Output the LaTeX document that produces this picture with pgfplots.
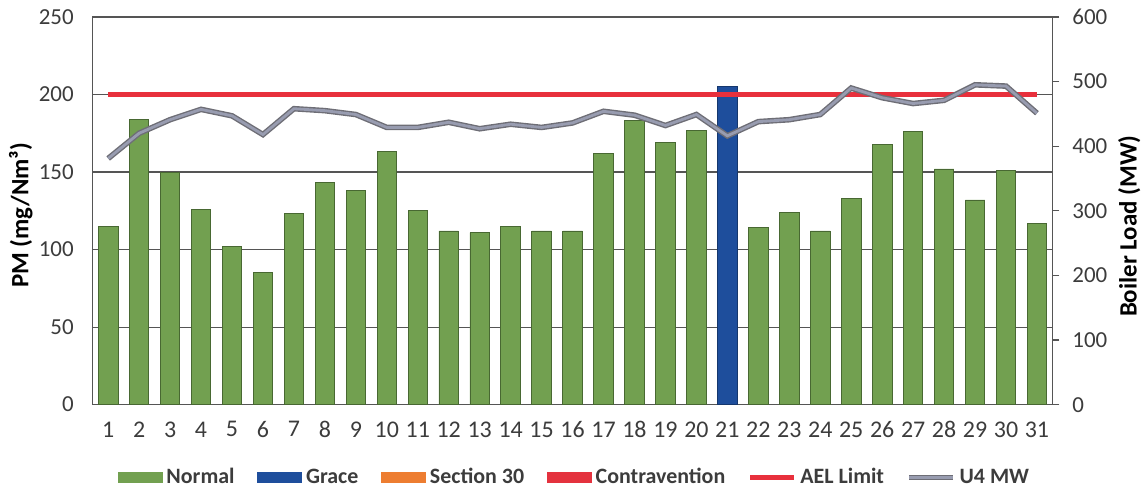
\documentclass[border=0pt]{standalone}
\usepackage{fontspec}
\setmainfont{Carlito}
\usepackage{pgfplots}
\pgfplotsset{compat=1.18}

\definecolor{normalgreen}{RGB}{114,160,80}
\definecolor{greenedge}{RGB}{72,104,50}
\definecolor{graceblue}{RGB}{30,78,156}
\definecolor{secorange}{RGB}{237,125,49}
\definecolor{contrared}{RGB}{228,50,62}
\definecolor{aelred}{RGB}{232,48,60}
\definecolor{mwgray}{RGB}{152,156,176}
\definecolor{mwdark}{RGB}{110,110,118}
\definecolor{gridgray}{RGB}{85,85,85}
\definecolor{ticktext}{RGB}{60,60,60}

\begin{document}
\begin{tikzpicture}
\begin{axis}[
  name=ax,
  scale only axis,
  width=481.5pt, height=194.5pt,
  xmin=0.5, xmax=31.5,
  ymin=0, ymax=250,
  xtick={1,...,31},
  ytick={0,50,...,250},
  ymajorgrids,
  grid style={gridgray, line width=0.6pt},
  axis line style={gridgray, line width=0.7pt},
  major tick length=0pt,
  /pgf/number format/assume math mode=true,
  tick label style={font=\fontsize{11.5}{13}\selectfont, text=ticktext},
  xticklabel style={font=\fontsize{12}{13}\selectfont, yshift=-5pt},
  yticklabel style={xshift=-6pt},
  ylabel={\textbf{PM (mg/Nm³)}},
  ylabel style={font=\fontsize{12.5}{14}\selectfont, at={(axis description cs:-0.0748,0.488)}, anchor=center},
]
\addplot[ybar, bar width=0.63, bar shift=0pt, fill=normalgreen, draw=greenedge, line width=0.4pt]
coordinates {(1,115) (2,184) (3,150) (4,126) (5,102) (6,85) (7,123) (8,143) (9,138) (10,163)
 (11,125) (12,112) (13,111) (14,115) (15,112) (16,112) (17,162) (18,183) (19,169) (20,177)
 (22,114) (23,124) (24,112) (25,133) (26,168) (27,176) (28,152) (29,132) (30,151) (31,117)};
\addplot[ybar, bar width=0.63, bar shift=0pt, fill=graceblue, draw=graceblue!70!black, line width=0.4pt]
coordinates {(21,205)};
\addplot[aelred, line width=2.5pt] coordinates {(1,200) (31,200)};
\end{axis}
\begin{axis}[
  scale only axis,
  width=481.5pt, height=194.5pt,
  xmin=0.5, xmax=31.5,
  ymin=0, ymax=600,
  ytick={0,100,...,600},
  axis x line=none,
  axis y line*=right,
  axis line style={gridgray, line width=0.7pt},
  tick style={gridgray, line width=0.6pt},
  tick align=outside,
  major tick length=3.5pt,
  /pgf/number format/assume math mode=true,
  tick label style={font=\fontsize{11.5}{13}\selectfont, text=ticktext},
  yticklabel style={xshift=3pt},
  ylabel={\textbf{Boiler Load (MW)}},
  ylabel style={font=\fontsize{12.5}{14}\selectfont, at={(axis description cs:1.080,0.46)}, anchor=center},
  legend style={at={(axis description cs:0.503,-0.188)}, anchor=center, draw=none, fill=none,
    font=\bfseries\fontsize{11}{13}\selectfont, text=ticktext,
    /tikz/every even column/.append style={column sep=9.5pt}},
  legend columns=6,
]
\addlegendimage{legend image code/.code={\fill[normalgreen] (0pt,-2.6pt) rectangle (22pt,2.6pt);}}
\addlegendentry{Normal}
\addlegendimage{legend image code/.code={\fill[graceblue] (0pt,-2.6pt) rectangle (22pt,2.6pt);}}
\addlegendentry{Grace}
\addlegendimage{legend image code/.code={\fill[secorange] (0pt,-2.6pt) rectangle (22pt,2.6pt);}}
\addlegendentry{Section 30}
\addlegendimage{legend image code/.code={\fill[contrared] (0pt,-2.6pt) rectangle (22pt,2.6pt);}}
\addlegendentry{Contravention}
\addlegendimage{legend image code/.code={\draw[aelred, line width=2.2pt] (0pt,0pt) -- (22pt,0pt);}}
\addlegendentry{AEL Limit}
\addlegendimage{legend image code/.code={\draw[mwdark, line width=2.4pt] (0pt,0pt) -- (22pt,0pt); \draw[mwgray, line width=1.2pt] (0pt,0pt) -- (22pt,0pt);}}
\addlegendentry{U4 MW}
\addplot[mwdark, line width=2.8pt, forget plot] coordinates {
 (1,381) (2,420) (3,441) (4,457) (5,447) (6,418) (7,458) (8,455) (9,449) (10,429)
 (11,429) (12,437) (13,427) (14,434) (15,429) (16,436) (17,454) (18,448) (19,432) (20,449)
 (21,416) (22,438) (23,441) (24,449) (25,490) (26,475) (27,466) (28,471) (29,495) (30,493) (31,451)};
\addplot[mwgray, line width=1.4pt, forget plot] coordinates {
 (1,381) (2,420) (3,441) (4,457) (5,447) (6,418) (7,458) (8,455) (9,449) (10,429)
 (11,429) (12,437) (13,427) (14,434) (15,429) (16,436) (17,454) (18,448) (19,432) (20,449)
 (21,416) (22,438) (23,441) (24,449) (25,490) (26,475) (27,466) (28,471) (29,495) (30,493) (31,451)};
\end{axis}
\path ([xshift=-46.5pt,yshift=-41pt]ax.south west) rectangle ([xshift=45.5pt,yshift=8.5pt]ax.north east);
\end{tikzpicture}
\end{document}
